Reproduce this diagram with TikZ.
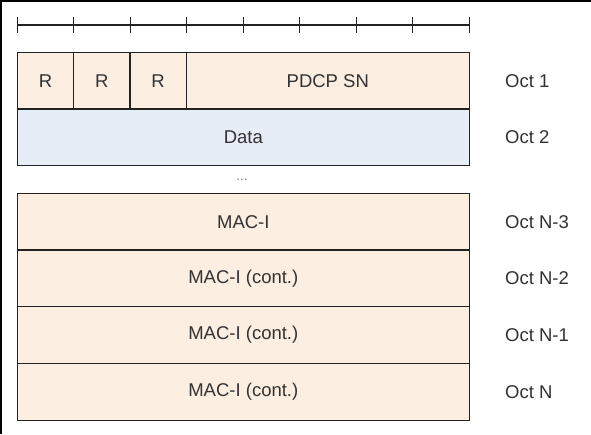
\documentclass[tikz,border=0pt]{standalone}
\usepackage{fontspec}
\setmainfont{Liberation Sans}
\definecolor{peach}{RGB}{253,238,226}
\definecolor{paleblue}{RGB}{230,237,247}
\definecolor{edge}{RGB}{34,34,34}
\definecolor{txt}{RGB}{50,50,50}
\begin{document}
\begin{tikzpicture}[x=1pt,y=-1pt,
  cell/.style={draw=edge, line width=1.3pt, inner sep=0pt, outer sep=0pt, text=txt,
    font=\fontsize{18.5}{21}\selectfont},
  pcell/.style={cell, fill=peach},
  bcell/.style={cell, fill=paleblue},
  octlab/.style={anchor=west, inner sep=0pt, text=txt, font=\fontsize{18.5}{21}\selectfont},
  ruler/.style={draw=edge, line width=1.3pt},
  frame/.style={draw=black, line width=2pt}]
\useasboundingbox (0,0) rectangle (591,434);
\fill[white] (0,0) rectangle (591,434);
% frame (top and left)
\draw[frame] (591,1) -- (1,1) -- (1,434);
% ruler
\coordinate (r0) at (17.3,25);
\coordinate (r8) at (469.3,25);
\draw[ruler] (r0) -- (r8);
\foreach \i in {0,...,8} {
  \draw[ruler] (17.3+56.5*\i,16.7) -- (17.3+56.5*\i,32.7);
}
% row 1
\node[pcell, minimum width=56.4pt, minimum height=56.3pt] (r1) at (45.5,80.85) {R};
\node[pcell, minimum width=56.3pt, minimum height=56.3pt] (r2) at (101.85,80.85) {R};
\node[pcell, minimum width=56.3pt, minimum height=56.3pt] (r3) at (158.15,80.85) {R};
\node[pcell, minimum width=283pt, minimum height=56.3pt] (sn) at (327.8,80.85) {PDCP SN};
% row 2
\node[bcell, minimum width=452pt, minimum height=56.3pt] (data) at (243.3,137.15) {Data};
% ellipsis
\node[text=gray, inner sep=0pt, font=\fontsize{14}{15}\selectfont] (dots) at (242,180) {...};
% MAC rows
\node[pcell, minimum width=452pt, minimum height=56.7pt] (m3) at (243.3,221.65) {MAC-I};
\node[pcell, minimum width=452pt, minimum height=56.7pt] (m2) at (243.3,278.35) {MAC-I (cont.)};
\node[pcell, minimum width=452pt, minimum height=57pt] (m1) at (243.3,335.2) {MAC-I (cont.)};
\node[pcell, minimum width=452pt, minimum height=57pt] (m0) at (243.3,392.2) {MAC-I (cont.)};
% octet labels
\node[octlab] (o1) at (505,80.85) {Oct 1};
\node[octlab] (o2) at (505,137.15) {Oct 2};
\node[octlab] (o3) at (505,221.65) {Oct N-3};
\node[octlab] (o4) at (505,278.35) {Oct N-2};
\node[octlab] (o5) at (505,335.2) {Oct N-1};
\node[octlab] (o6) at (505,392.2) {Oct N};
\end{tikzpicture}
\end{document}
